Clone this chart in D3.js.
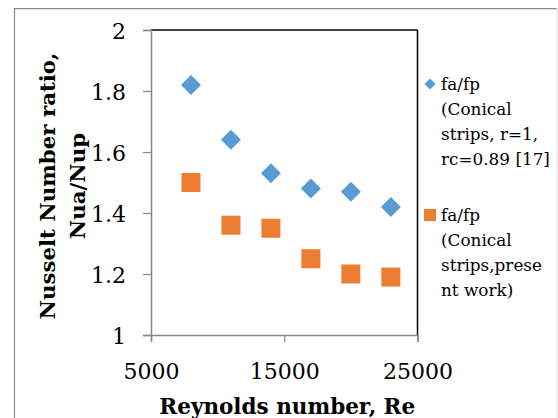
<!DOCTYPE html>
<html>
<head>
<meta charset="utf-8">
<script src="https://cdn.jsdelivr.net/npm/d3@7"></script>
<style>
  html, body { margin: 0; padding: 0; background: #fff; }
  svg { display: block; }
  text { font-family: "DejaVu Serif", serif; fill: #000; }
</style>
</head>
<body>
<svg id="chart" width="558" height="418"></svg>
<script>
// ---- data ----
const reynolds = [8000, 11000, 14000, 17000, 20000, 23000];
const seriesRef = [1.82, 1.64, 1.53, 1.48, 1.47, 1.42];      // fa/fp (Conical strips, r=1, rc=0.89 [17])
const seriesPresent = [1.50, 1.36, 1.35, 1.25, 1.20, 1.19];  // fa/fp (Conical strips, present work)
const xTicks = [5000, 15000, 25000];
const yTicks = [1, 1.2, 1.4, 1.6, 1.8, 2];
const legendRef = ["fa/fp", "(Conical", "strips, r=1,", "rc=0.89 [17]"];
const legendPresent = ["fa/fp", "(Conical", "strips,prese", "nt work)"];
const xTitle = "Reynolds number, Re";
const yTitle = ["Nusselt Number ratio,", "Nua/Nup"];

// ---- layout ----
const W = 558, H = 418;
const plot = { left: 151, right: 417.5, top: 30, bottom: 335 };
const blue = "#5B9BD5", orange = "#ED7D31", axisGray = "#868686";
const tickFont = "22px";

const svg = d3.select("#chart");

// outer chart border
svg.append("line").attr("x1", 14.5).attr("x2", 14.5).attr("y1", 8.5).attr("y2", H)
  .attr("stroke", "#8c8c8c").attr("stroke-width", 1.2);
svg.append("line").attr("x1", 14).attr("x2", 557).attr("y1", 8.7).attr("y2", 8.7)
  .attr("stroke", "#8c8c8c").attr("stroke-width", 1.2);
svg.append("line").attr("x1", 557).attr("x2", 557).attr("y1", 8.5).attr("y2", H)
  .attr("stroke", "#e0e0e0").attr("stroke-width", 1);

const x = d3.scaleLinear().domain([5000, 25000]).range([plot.left, plot.right]);
const y = d3.scaleLinear().domain([1, 2]).range([plot.bottom, plot.top]);

// plot area border (top/right dark)
svg.append("line").attr("x1", plot.left).attr("x2", plot.right).attr("y1", plot.top).attr("y2", plot.top)
  .attr("stroke", "#000").attr("stroke-width", 1.5);
svg.append("line").attr("x1", plot.right).attr("x2", plot.right).attr("y1", plot.top).attr("y2", plot.bottom)
  .attr("stroke", "#000").attr("stroke-width", 1.5);

// axes
const yAxis = d3.axisLeft(y).tickValues(yTicks).tickSize(8).tickPadding(8)
  .tickFormat(d => d3.format("")(+d.toFixed(1)));
const gy = svg.append("g").attr("transform", `translate(${plot.left},0)`).call(yAxis);
gy.select(".domain").attr("stroke", axisGray).attr("stroke-width", 1.5);
gy.selectAll(".tick line").attr("stroke", axisGray).attr("stroke-width", 1.2);
gy.selectAll(".tick text").style("font-family", "DejaVu Serif").style("font-size", tickFont)
  .attr("dy", "0.38em").attr("x", -25);

const xAxis = d3.axisBottom(x).tickValues(xTicks).tickSize(7).tickPadding(21).tickFormat(d3.format("d"));
const gx = svg.append("g").attr("transform", `translate(0,${plot.bottom})`).call(xAxis);
gx.select(".domain").attr("stroke", axisGray).attr("stroke-width", 1.5);
gx.selectAll(".tick line").attr("stroke", axisGray).attr("stroke-width", 1.2);
gx.selectAll(".tick text").style("font-family", "DejaVu Serif").style("font-size", tickFont);

// fit helper: choose font-size so text width matches target
function fit(sel, target) {
  const len = sel.node().getComputedTextLength();
  const fs = parseFloat(sel.style("font-size"));
  const nfs = fs * target / len;
  sel.style("font-size", nfs + "px");
  return nfs;
}

// axis titles
const xt = svg.append("text").attr("x", (plot.left + plot.right) / 2 + 3).attr("y", 414)
  .attr("text-anchor", "middle").style("font-weight", "bold").style("font-size", "20px").text(xTitle);
fit(xt, 256);

const yt = svg.append("g").attr("transform", "translate(55,186) rotate(-90)");
const yt1 = yt.append("text").attr("x", 0).attr("y", 0).attr("text-anchor", "middle")
  .style("font-weight", "bold").style("font-size", "20px").text(yTitle[0]);
fit(yt1, 267);
yt.append("text").attr("x", 0).attr("y", 30).attr("text-anchor", "middle")
  .style("font-weight", "bold").style("font-size", yt1.style("font-size")).text(yTitle[1]);

// markers
const diamond = d3.symbol().type(d3.symbolSquare).size(200);
svg.append("g").selectAll("path").data(reynolds.map((r, i) => [r, seriesRef[i]])).join("path")
  .attr("d", diamond)
  .attr("transform", d => `translate(${x(d[0])},${y(d[1])}) rotate(45)`)
  .attr("fill", blue);

const sq = 19;
svg.append("g").selectAll("rect").data(reynolds.map((r, i) => [r, seriesPresent[i]])).join("rect")
  .attr("x", d => x(d[0]) - sq / 2).attr("y", d => y(d[1]) - sq / 2)
  .attr("width", sq).attr("height", sq).attr("fill", orange);

// legend
const lg = svg.append("g");
lg.append("path").attr("d", d3.symbol().type(d3.symbolSquare).size(60)())
  .attr("transform", "translate(430,84) rotate(45)").attr("fill", blue);
lg.append("rect").attr("x", 424).attr("y", 209).attr("width", 12).attr("height", 12).attr("fill", orange);

// size legend font so that the widest line spans the same width as in the reference
const probe = lg.append("text").style("font-size", "18px").text(legendRef[3]);
const legFont = Math.min(18.5, fit(probe, 109));
probe.remove();

legendRef.forEach((t, i) => {
  lg.append("text").attr("x", 441).attr("y", 90 + i * 25).style("font-size", legFont + "px").text(t);
});
legendPresent.forEach((t, i) => {
  lg.append("text").attr("x", 441).attr("y", 221 + i * 25).style("font-size", legFont + "px").text(t);
});
</script>
</body>
</html>
